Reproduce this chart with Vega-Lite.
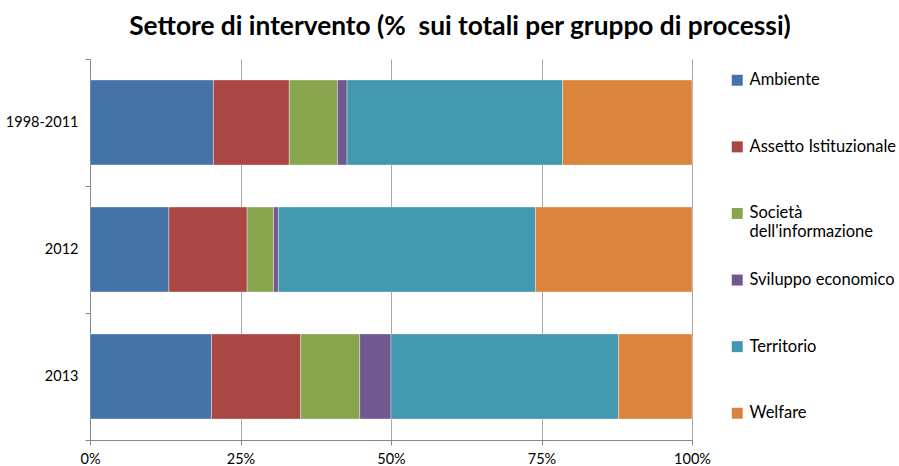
{
  "$schema": "https://vega.github.io/schema/vega-lite/v6.json",
  "width": 602,
  "height": 381,
  "autosize": {"type": "none"},
  "padding": {"left": 90, "top": 59, "right": 207, "bottom": 26},
  "background": "white",
  "title": {
    "text": "Settore di intervento (%\u00a0 sui totali per gruppo di processi)",
    "font": "Lato",
    "fontSize": 26.3,
    "fontWeight": "bold",
    "color": "#000000",
    "anchor": "middle",
    "dx": 69,
    "offset": 11
  },
  "data": {
    "values": [
      {"periodo": "1998-2011", "settore": "Ambiente", "valore": 20.5},
      {"periodo": "1998-2011", "settore": "Assetto Istituzionale", "valore": 12.6},
      {"periodo": "1998-2011", "settore": "Società dell'informazione", "valore": 8.0},
      {"periodo": "1998-2011", "settore": "Sviluppo economico", "valore": 1.6},
      {"periodo": "1998-2011", "settore": "Territorio", "valore": 35.8},
      {"periodo": "1998-2011", "settore": "Welfare", "valore": 21.5},
      {"periodo": "2012", "settore": "Ambiente", "valore": 13.1},
      {"periodo": "2012", "settore": "Assetto Istituzionale", "valore": 13.0},
      {"periodo": "2012", "settore": "Società dell'informazione", "valore": 4.4},
      {"periodo": "2012", "settore": "Sviluppo economico", "valore": 0.8},
      {"periodo": "2012", "settore": "Territorio", "valore": 42.7},
      {"periodo": "2012", "settore": "Welfare", "valore": 26.0},
      {"periodo": "2013", "settore": "Ambiente", "valore": 20.2},
      {"periodo": "2013", "settore": "Assetto Istituzionale", "valore": 14.8},
      {"periodo": "2013", "settore": "Società dell'informazione", "valore": 9.8},
      {"periodo": "2013", "settore": "Sviluppo economico", "valore": 5.2},
      {"periodo": "2013", "settore": "Territorio", "valore": 37.8},
      {"periodo": "2013", "settore": "Welfare", "valore": 12.2}
    ]
  },
  "mark": {"type": "bar", "height": {"band": 0.67}, "stroke": "#ffffff", "strokeWidth": 0.6, "strokeOpacity": 0.6},
  "encoding": {
    "y": {
      "field": "periodo",
      "type": "nominal",
      "sort": ["1998-2011", "2012", "2013"],
      "scale": {"paddingInner": 0, "paddingOuter": 0},
      "axis": {
        "title": null,
        "tickBand": "extent",
        "labelFont": "Lato",
        "labelFontSize": 14.5,
        "labelColor": "#000000",
        "labelPadding": 7,
        "domainColor": "#868686",
        "tickColor": "#868686",
        "tickSize": 5,
        "grid": false
      }
    },
    "x": {
      "field": "valore",
      "type": "quantitative",
      "stack": "normalize",
      "scale": {"domain": [0, 1]},
      "axis": {
        "title": null,
        "format": ".0%",
        "values": [0, 0.25, 0.5, 0.75, 1],
        "labelFont": "Lato",
        "labelFontSize": 14.5,
        "labelColor": "#000000",
        "labelPadding": 7,
        "domainColor": "#868686",
        "tickColor": "#868686",
        "tickSize": 5,
        "grid": true,
        "gridColor": "#a6a6a6",
        "labelFlush": false
      }
    },
    "color": {
      "field": "settore",
      "type": "nominal",
      "scale": {
        "domain": ["Ambiente", "Assetto Istituzionale", "Società dell'informazione", "Sviluppo economico", "Territorio", "Welfare"],
        "range": ["#4572A7", "#AA4643", "#89A54E", "#71588F", "#4198AF", "#DB843D"]
      },
      "legend": {
        "title": null,
        "orient": "none",
        "legendX": 639,
        "legendY": 13,
        "gridAlign": "all",
        "symbolType": "square",
        "symbolSize": 121,
        "symbolStrokeWidth": 0,
        "labelFont": "Lato",
        "labelFontSize": 16.5,
        "labelColor": "#000000",
        "labelLimit": 300,
        "labelOffset": 4,
        "rowPadding": 30.6,
        "labelExpr": "datum.label == \"Società dell'informazione\" ? ['Società', \"dell'informazione\"] : datum.label"
      }
    }
  },
  "config": {"view": {"stroke": null}}
}
